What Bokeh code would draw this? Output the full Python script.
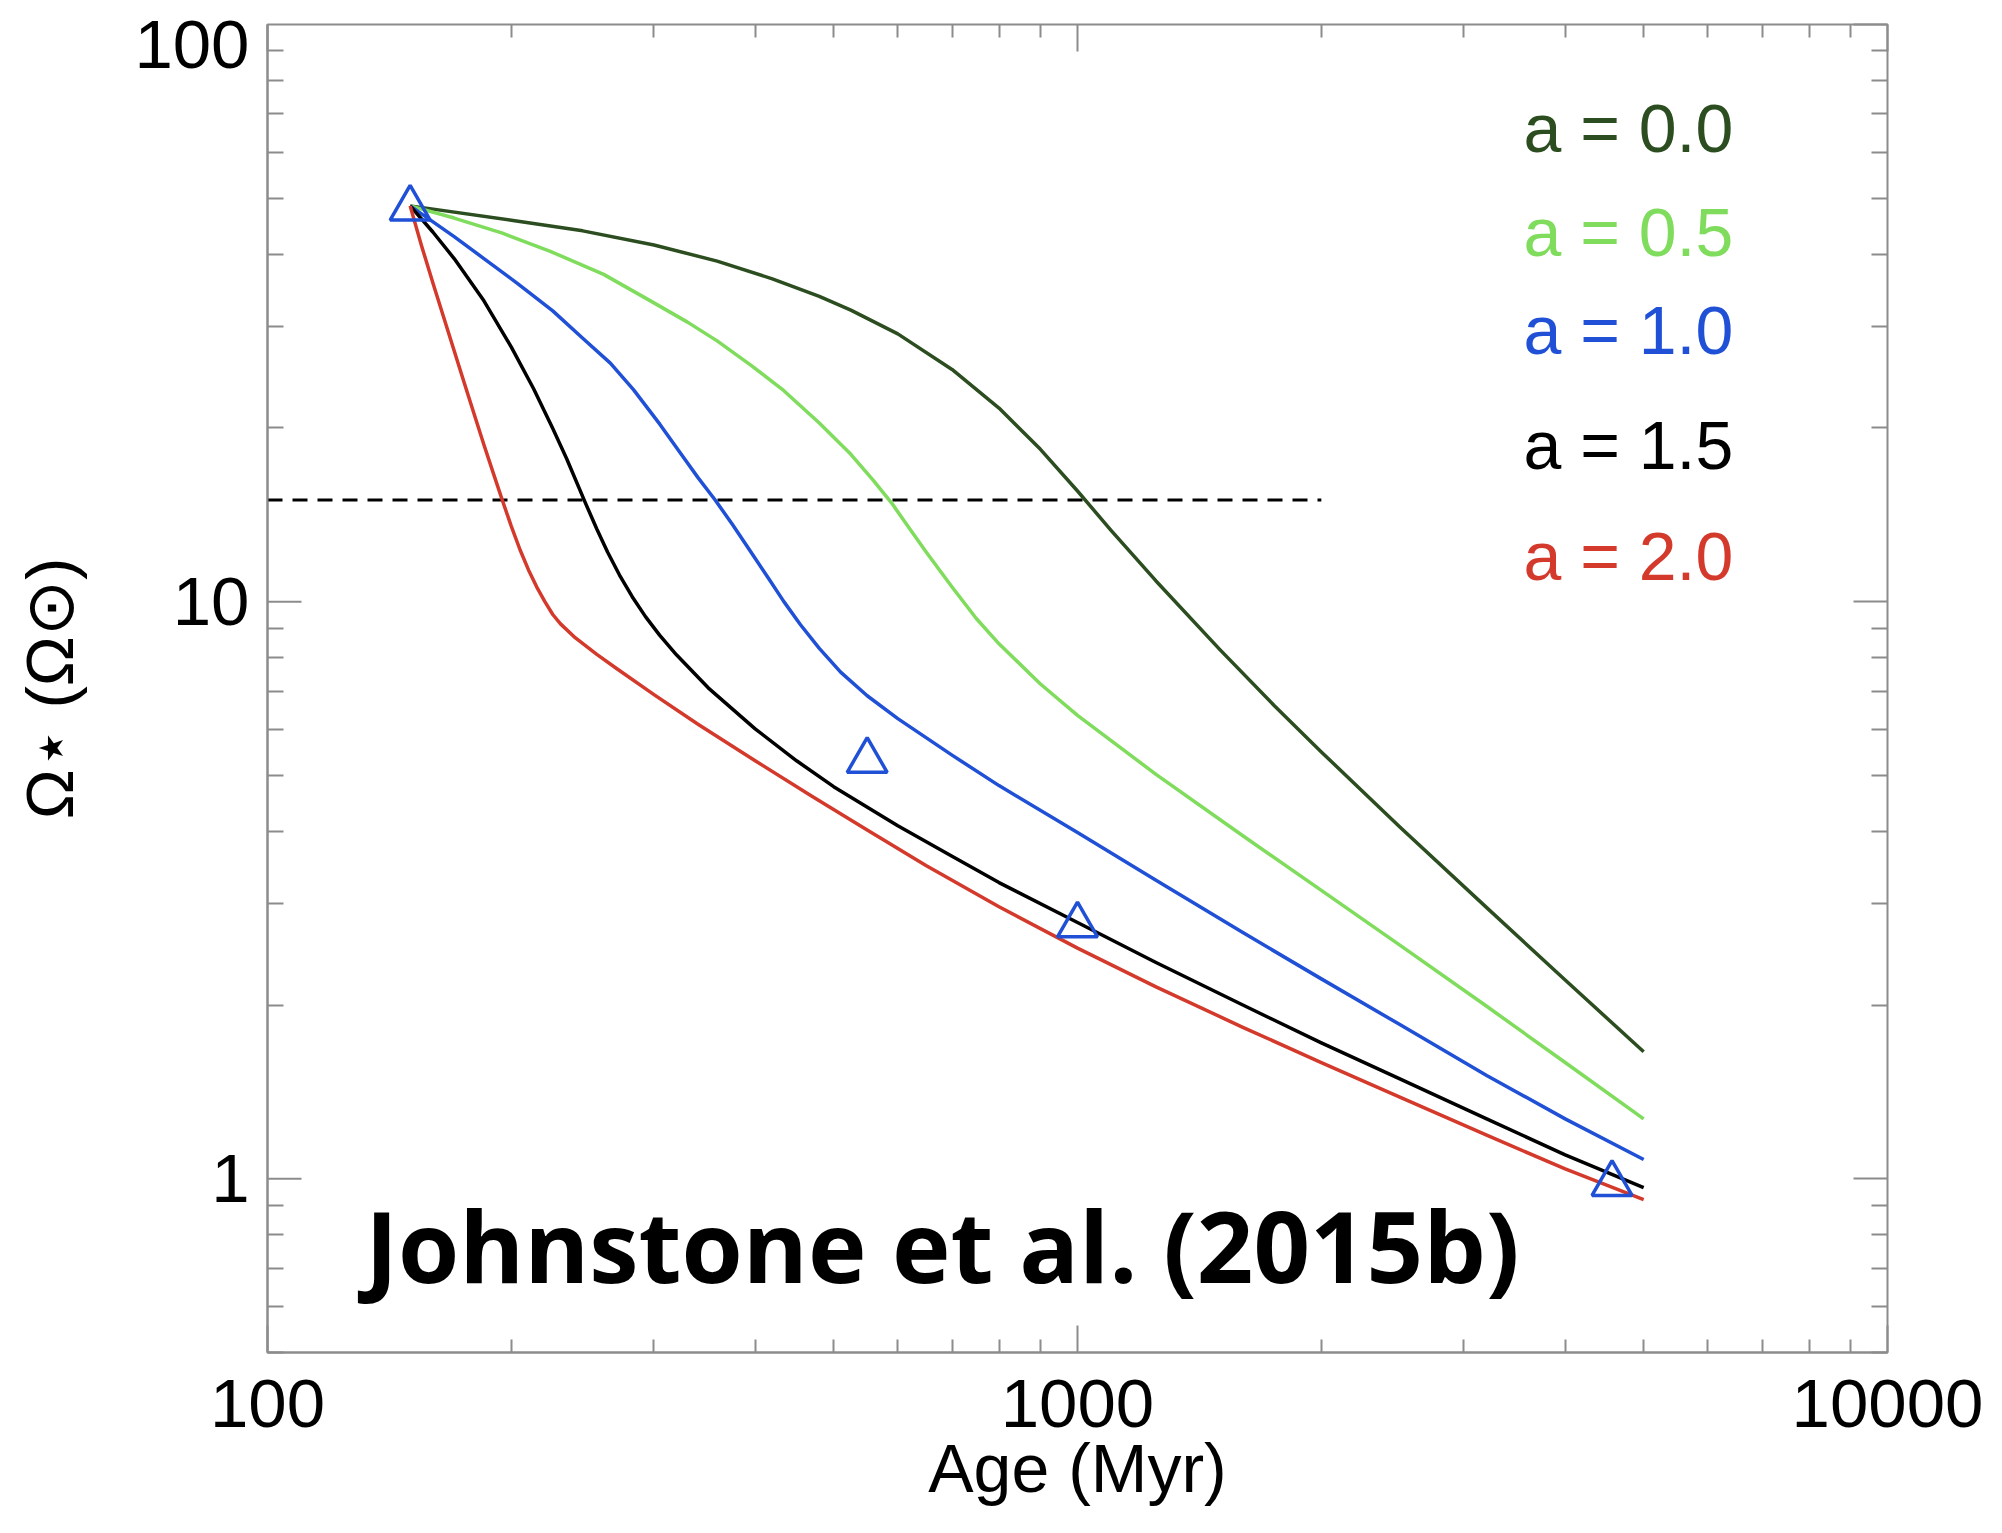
from bokeh.plotting import figure
from bokeh.models import LogAxis, FixedTicker, PrintfTickFormatter, Label
from bokeh.embed import file_html
from bokeh.resources import INLINE

# ---------------- data ----------------
series_names = ["a = 0.0", "a = 0.5", "a = 1.0", "a = 1.5", "a = 2.0"]
series_colors = ["#2b4d1f", "#7fdc5c", "#1f50d6", "#000000", "#d33a2c"]

age_a00 = [150, 200, 245, 300, 359, 420, 480, 525, 600, 700, 800, 900, 1000, 1100, 1250, 1500, 1750, 2000, 2500, 3200, 4000, 5000]
omega_a00 = [48.5, 45.8, 43.9, 41.5, 38.9, 36.25, 33.8, 32.0, 29.1, 25.25, 21.65, 18.36, 15.55, 13.29, 10.86, 8.25, 6.6, 5.49, 4.07, 2.95, 2.21, 1.66]

age_a05 = [150, 170, 195, 223, 260, 297, 330, 359, 395, 434, 480, 525, 560, 590, 620, 650, 700, 750, 800, 900, 1000, 1250, 1600, 2000, 2500, 3200, 4000, 5000]
omega_a05 = [48.5, 46.2, 43.5, 40.5, 36.9, 33.2, 30.5, 28.3, 25.7, 23.2, 20.4, 18.0, 16.2, 14.8, 13.4, 12.2, 10.6, 9.35, 8.45, 7.2, 6.35, 5.02, 3.93, 3.16, 2.54, 1.99, 1.59, 1.27]

age_a10 = [150, 170, 185, 204, 225, 245, 265, 283, 305, 326, 340, 357, 375, 395, 415, 434, 455, 480, 510, 550, 600, 700, 800, 1000, 1250, 1600, 2000, 2500, 3200, 4000, 5000]
omega_a10 = [48.5, 42.9, 39.3, 35.5, 31.9, 28.6, 25.9, 23.3, 20.3, 17.8, 16.4, 15.0, 13.6, 12.2, 11.0, 10.0, 9.12, 8.3, 7.55, 6.87, 6.27, 5.42, 4.8, 3.98, 3.29, 2.67, 2.22, 1.85, 1.51, 1.27, 1.08]

age_a15 = [150, 160, 170, 185, 200, 213, 225, 234, 247, 255, 263, 272, 282, 293, 305, 320, 350, 400, 450, 500, 600, 700, 800, 1000, 1250, 1600, 2000, 2500, 3200, 4000, 5000]
omega_a15 = [48.5, 43.7, 39.3, 33.2, 27.6, 23.4, 19.95, 17.7, 14.8, 13.36, 12.18, 11.12, 10.2, 9.41, 8.74, 8.08, 7.09, 6.02, 5.30, 4.78, 4.09, 3.62, 3.26, 2.78, 2.37, 2.0, 1.72, 1.49, 1.27, 1.10, 0.965]

age_a20 = [150, 155, 160, 165, 170, 175, 180, 185, 190, 195, 200, 205, 210, 215, 220, 225, 230, 240, 255, 270, 300, 340, 400, 470, 550, 650, 800, 1000, 1250, 1600, 2000, 2500, 3200, 4000, 5000]
omega_a20 = [48.5, 41.3, 35.7, 31.1, 27.2, 23.9, 21.1, 18.7, 16.7, 14.97, 13.5, 12.3, 11.35, 10.6, 10.0, 9.5, 9.15, 8.65, 8.1, 7.65, 6.9, 6.13, 5.30, 4.60, 4.02, 3.49, 2.96, 2.51, 2.15, 1.83, 1.59, 1.385, 1.19, 1.04, 0.92]

obs_age = [150, 550, 1000, 4570]
obs_omega = [48, 5.3, 2.75, 0.98]

sat_age = [100, 2000]
sat_omega = [15, 15]

x_tick_values = [100, 1000, 10000]
y_tick_values = [1, 10, 100]
x_minor_values = [m * 10 ** e for e in (2, 3) for m in range(2, 10)]
y_minor_values = [m * 10 ** e for e in (-1, 0, 1) for m in range(2, 10) if m * 10 ** e >= 0.5]

citation = "Johnstone et al. (2015b)"

# ---------------- figure ----------------
AX = "#8c8c8c"
p = figure(width=2002, height=1533, x_axis_type="log", y_axis_type="log",
           x_range=(100, 10000), y_range=(0.5, 100),
           output_backend="svg", toolbar_location=None,
           min_border_left=267, min_border_right=115,
           min_border_top=24, min_border_bottom=181)
p.xgrid.visible = False
p.ygrid.visible = False
p.outline_line_color = AX
p.outline_line_width = 2
p.background_fill_color = "white"
p.border_fill_color = "white"


def style(ax, major_in, minor_in, labels=True):
    ax.axis_line_color = AX
    ax.axis_line_width = 2
    ax.major_tick_line_color = AX
    ax.minor_tick_line_color = AX
    ax.major_tick_line_width = 2
    ax.minor_tick_line_width = 2
    ax.major_tick_in = major_in
    ax.major_tick_out = 0
    ax.minor_tick_in = minor_in
    ax.minor_tick_out = 0
    ax.major_label_text_font = "Liberation Sans"
    ax.formatter = PrintfTickFormatter(format="%d")
    if labels:
        ax.major_label_text_font_size = "69px"
        ax.major_label_text_color = "black"
    else:
        ax.major_label_text_font_size = "1px"
        ax.major_label_text_color = "white"
        ax.major_label_text_alpha = 0
        ax.major_label_standoff = 0
        ax.axis_line_color = None


xa = p.xaxis[0]
xa.ticker = FixedTicker(ticks=x_tick_values, minor_ticks=x_minor_values)
style(xa, 27, 13)
xa.major_label_standoff = 27
xa.axis_label = "Age (Myr)"
xa.axis_label_text_font = "Liberation Sans"
xa.axis_label_text_font_style = "normal"
xa.axis_label_text_font_size = "68px"
xa.axis_label_text_color = "black"
xa.axis_label_standoff = 0

# In the reference the top y label ("100") sits about 19 px below its tick,
# so that label is placed at a slightly lower position; the major tick marks
# of the left axis are drawn as short rays instead.
top_label_pos = 92.5
ya = p.yaxis[0]
ya.ticker = FixedTicker(ticks=y_tick_values[:-1] + [top_label_pos], minor_ticks=y_minor_values)
style(ya, 34, 16)
ya.major_tick_line_color = None
ya.major_label_overrides = {top_label_pos: str(y_tick_values[-1])}
ya.major_label_standoff = 18
ya.axis_label = "Ω⋆ (Ω⊙)"
ya.axis_label_text_font = "Liberation Sans"
ya.axis_label_text_font_style = "normal"
ya.axis_label_text_font_size = "67px"
ya.axis_label_text_color = "black"
ya.axis_label_standoff = 44

top = LogAxis(ticker=FixedTicker(ticks=x_tick_values, minor_ticks=x_minor_values))
style(top, 27, 13, labels=False)
p.add_layout(top, "above")
right = LogAxis(ticker=FixedTicker(ticks=y_tick_values, minor_ticks=y_minor_values))
style(right, 34, 16, labels=False)
p.add_layout(right, "right")

p.ray(x=[x_tick_values[0]] * 2, y=y_tick_values[:-1], length=34, length_units="screen",
      angle=0, line_color=AX, line_width=2)

# ---------------- marks ----------------
p.line(sat_age, sat_omega, line_color="black", line_width=3, line_dash="15 10")

curves = [(age_a00, omega_a00), (age_a05, omega_a05), (age_a10, omega_a10),
          (age_a15, omega_a15), (age_a20, omega_a20)]
for (ages, oms), col in zip(curves, series_colors):
    p.line(ages, oms, line_color=col, line_width=3.5, line_join="round")

p.scatter(obs_age, obs_omega, marker="triangle", size=40, fill_color=None,
          line_color="#1f50d6", line_width=3.5)

# ---------------- texts ----------------
legend_x = 3553
legend_y = [66.3, 43.7, 29.5, 18.7, 12.0]
for name, col, ly in zip(series_names, series_colors, legend_y):
    p.add_layout(Label(x=legend_x, y=ly, text=name, text_color=col,
                       text_font="Liberation Sans", text_font_size="68px",
                       text_baseline="alphabetic", text_align="left"))

p.add_layout(Label(x=132, y=0.77, text=citation, text_color="black",
                   text_font="Open Sans", text_font_style="bold",
                   text_font_size="99px", text_baseline="alphabetic"))

open("out.html", "w").write(file_html(p, INLINE))
